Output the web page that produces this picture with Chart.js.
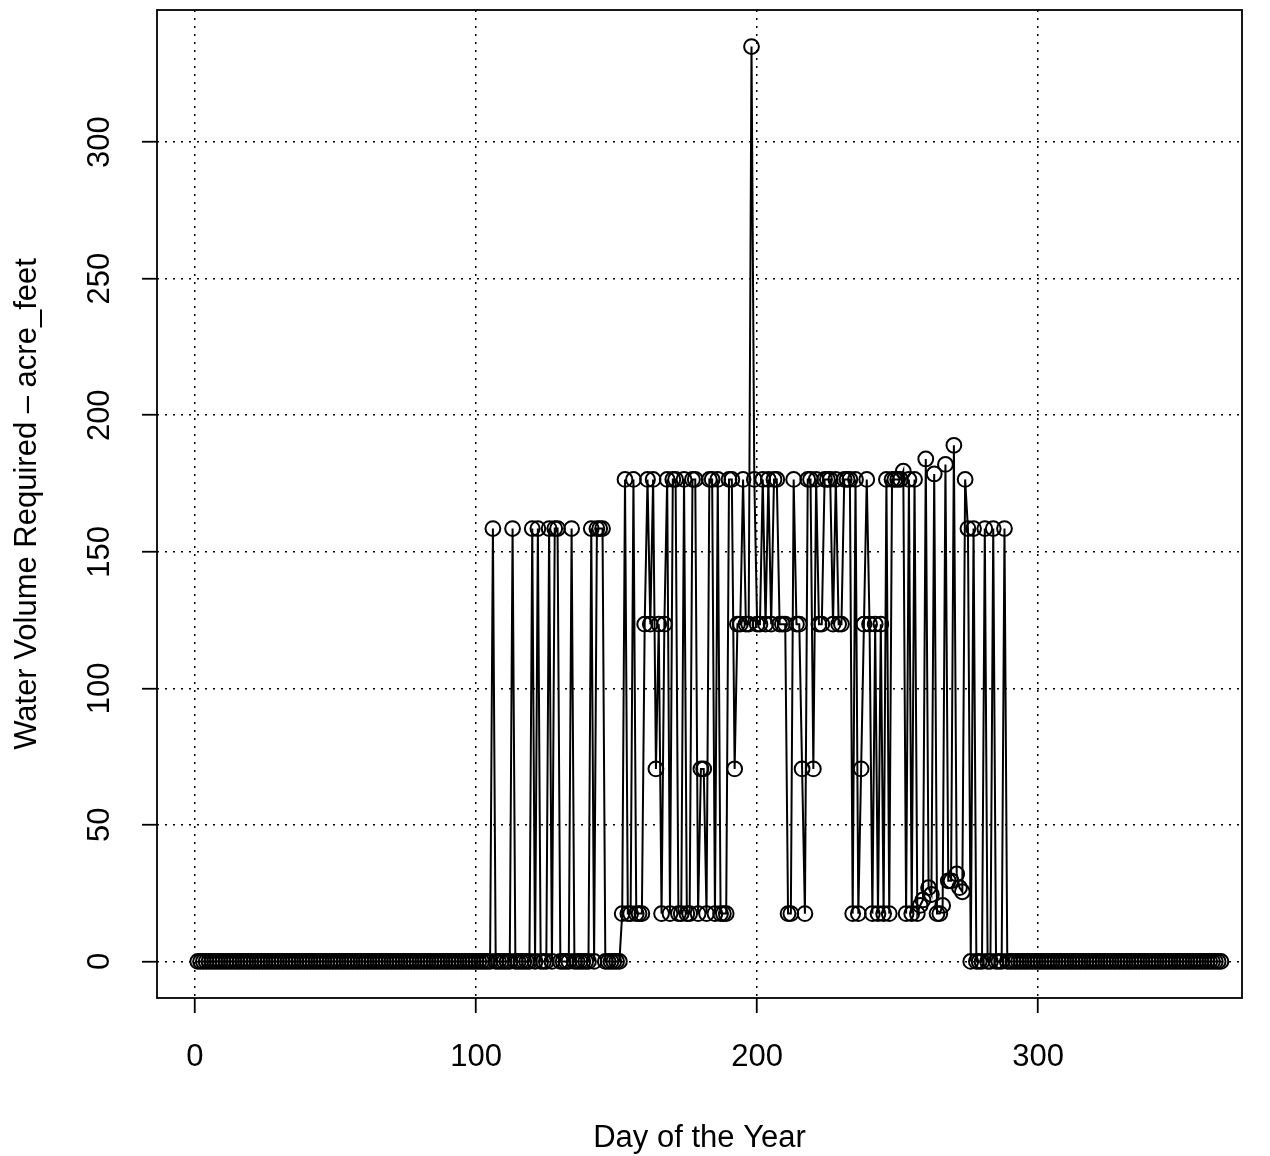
<!DOCTYPE html>
<html>
<head>
<meta charset="utf-8">
<script src="https://cdn.jsdelivr.net/npm/chart.js@4.4.0/dist/chart.umd.min.js"></script>
<style>
  html, body { margin: 0; padding: 0; background: #fff; }
  #wrap { width: 1270px; height: 1156px; position: relative; }
</style>
</head>
<body>
<div id="wrap"><canvas id="water-chart"></canvas></div>
<script>
// -----------------------------
// DATA
// -----------------------------
const xTicks = [0, 100, 200, 300];
const yTicks = [0, 50, 100, 150, 200, 250, 300];

// acre_feet required, day 1 .. 365 (one row = 10 days)
const waterVolume = [
  0, 0, 0, 0, 0, 0, 0, 0, 0, 0,
  0, 0, 0, 0, 0, 0, 0, 0, 0, 0,
  0, 0, 0, 0, 0, 0, 0, 0, 0, 0,
  0, 0, 0, 0, 0, 0, 0, 0, 0, 0,
  0, 0, 0, 0, 0, 0, 0, 0, 0, 0,
  0, 0, 0, 0, 0, 0, 0, 0, 0, 0,
  0, 0, 0, 0, 0, 0, 0, 0, 0, 0,
  0, 0, 0, 0, 0, 0, 0, 0, 0, 0,
  0, 0, 0, 0, 0, 0, 0, 0, 0, 0,
  0, 0, 0, 0, 0, 0, 0, 0, 0, 0,
  // 101 - 110
  0, 0, 0, 0, 0, 158.5, 0, 0, 0, 0,
  0, 0, 158.5, 0, 0, 0, 0, 0, 0, 158.5,
  0, 158.5, 0, 0, 0, 158.5, 0, 158.5, 158.5, 0,
  0, 0, 0, 158.5, 0, 0, 0, 0, 0, 0,
  158.5, 0, 158.5, 158.5, 158.5, 0, 0, 0, 0, 0,
  // 151 - 160
  0, 17.5, 176.5, 17.5, 17.5, 176.5, 17.5, 17.5, 17.5, 123.5,
  176.5, 123.5, 176.5, 70.5, 123.5, 17.5, 123.5, 176.5, 17.5, 176.5,
  176.5, 17.5, 17.5, 176.5, 17.5, 17.5, 176.5, 176.5, 17.5, 70.5,
  70.5, 17.5, 176.5, 176.5, 17.5, 176.5, 17.5, 17.5, 17.5, 176.5,
  176.5, 70.5, 123.5, 123.5, 176.5, 123.5, 123.5, 335, 176.5, 123.5,
  // 201 - 210
  123.5, 176.5, 123.5, 176.5, 123.5, 176.5, 176.5, 123.5, 123.5, 123.5,
  17.5, 17.5, 176.5, 123.5, 123.5, 70.5, 17.5, 176.5, 176.5, 70.5,
  176.5, 123.5, 123.5, 176.5, 176.5, 176.5, 123.5, 176.5, 123.5, 123.5,
  176.5, 176.5, 176.5, 17.5, 176.5, 17.5, 70.5, 123.5, 176.5, 123.5,
  17.5, 123.5, 17.5, 123.5, 17.5, 176.5, 17.5, 176.5, 176.5, 176.5,
  // 251 - 260
  176.5, 179.5, 17.5, 176.5, 17.5, 176.5, 17.5, 20.5, 22.5, 184,
  27, 24.5, 178.5, 17.5, 17.5, 20.5, 182, 29.5, 29.5, 189,
  32, 27, 25.5, 176.5, 158.5, 0, 158.5, 0, 0, 0,
  158.5, 0, 0, 158.5, 0, 0, 0, 158.5, 0, 0,
  // 291 - 300
  0, 0, 0, 0, 0, 0, 0, 0, 0, 0,
  0, 0, 0, 0, 0, 0, 0, 0, 0, 0,
  0, 0, 0, 0, 0, 0, 0, 0, 0, 0,
  0, 0, 0, 0, 0, 0, 0, 0, 0, 0,
  0, 0, 0, 0, 0, 0, 0, 0, 0, 0,
  0, 0, 0, 0, 0, 0, 0, 0, 0, 0,
  0, 0, 0, 0, 0, 0, 0, 0, 0, 0,
  0, 0, 0, 0, 0
];

// -----------------------------
// STYLE
// -----------------------------
const FONT = "'Liberation Sans', Arial, sans-serif";
const FONT_SIZE = 31;

// box around the plot region + rotated y tick labels (R style)
const rFrame = {
  id: "rFrame",
  afterDraw(chart) {
    const { ctx, chartArea: a, scales } = chart;
    ctx.save();
    ctx.strokeStyle = "#000";
    ctx.lineWidth = 1.8;
    ctx.strokeRect(a.left, a.top, a.right - a.left, a.bottom - a.top);

    ctx.fillStyle = "#000";
    ctx.font = FONT_SIZE + "px " + FONT;
    ctx.textAlign = "center";
    ctx.textBaseline = "middle";
    yTicks.forEach(v => {
      ctx.save();
      ctx.translate(a.left - 57, scales.y.getPixelForValue(v));
      ctx.rotate(-Math.PI / 2);
      ctx.fillText(String(v), 0, 0);
      ctx.restore();
    });
    ctx.restore();
  }
};

const gridStyle = {
  color: "#000",
  lineWidth: 1.5,
  drawTicks: true,
  tickLength: 15,
  tickColor: "#000",
  tickWidth: 1.8,
  tickBorderDash: []
};

// -----------------------------
// CHART
// -----------------------------
new Chart(document.getElementById("water-chart"), {
  type: "line",
  data: {
    datasets: [{
      data: waterVolume.map((v, i) => ({ x: i + 1, y: v })),
      borderColor: "#000",
      borderWidth: 2,
      tension: 0,
      fill: false,
      pointStyle: "circle",
      pointRadius: 7.4,
      pointBorderWidth: 2,
      pointBorderColor: "#000",
      pointBackgroundColor: "rgba(0,0,0,0)"
    }]
  },
  options: {
    responsive: true,
    maintainAspectRatio: false,
    animation: false,
    layout: { padding: { top: 10, right: 28, left: 0, bottom: 0 } },
    plugins: {
      legend: { display: false },
      tooltip: { enabled: false }
    },
    scales: {
      x: {
        type: "linear",
        min: -13.5,
        max: 372.5,
        afterBuildTicks: s => { s.ticks = xTicks.map(v => ({ value: v })); },
        afterFit: s => { s.height = 158; },
        grid: gridStyle,
        border: { display: false, dash: [2, 6] },
        ticks: {
          color: "#000",
          padding: 26,
          maxRotation: 0,
          font: { family: FONT, size: FONT_SIZE }
        },
        title: {
          display: true,
          text: "Day of the Year",
          color: "#000",
          padding: { top: 0, bottom: 0 },
          font: { family: FONT, size: FONT_SIZE, lineHeight: 1.1 }
        }
      },
      y: {
        type: "linear",
        min: -13.4,
        max: 348.4,
        afterBuildTicks: s => { s.ticks = yTicks.map(v => ({ value: v })); },
        afterFit: s => { s.width = 157; },
        grid: gridStyle,
        border: { display: false, dash: [2, 6] },
        ticks: { display: false },
        title: {
          display: true,
          text: "Water Volume Required \u2013 acre_feet",
          color: "#000",
          padding: { top: 9, bottom: 0 },
          font: { family: FONT, size: FONT_SIZE }
        }
      }
    }
  },
  plugins: [rFrame]
});
</script>
</body>
</html>
